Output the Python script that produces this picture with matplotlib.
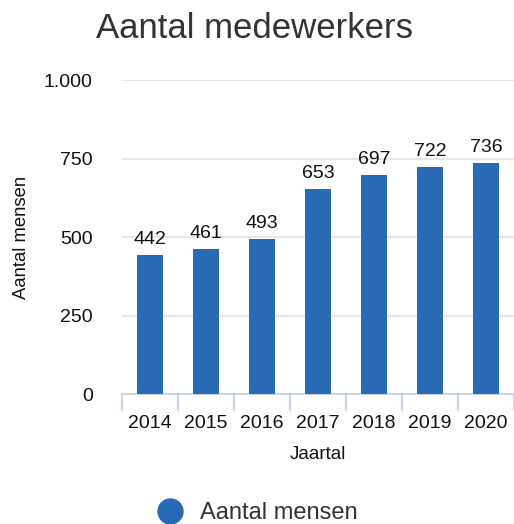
import matplotlib.pyplot as plt
from matplotlib.lines import Line2D
from matplotlib.ticker import FixedLocator

years = ["2014", "2015", "2016", "2017", "2018", "2019", "2020"]
mensen = [442, 461, 493, 653, 697, 722, 736]
y_ticks = [0, 250, 500, 750, 1000]
y_labels = ["0", "250", "500", "750", "1.000"]

plt.rcParams['font.family'] = ['Liberation Sans', 'DejaVu Sans']

bar_color = "#2a69b3"
axis_color = "#c8d2e8"

fig = plt.figure(figsize=(5.14, 5.24), dpi=100)
ax = fig.add_axes([0.237, 0.248, 0.763, 0.599])

x = list(range(len(years)))
ax.bar(x, mensen, width=0.47, color=bar_color, zorder=3)

# value labels above bars
for xi, v in zip(x, mensen):
    ax.annotate(str(v), (xi, v), xytext=(0, 5), textcoords="offset points",
                ha="center", va="bottom", fontsize=14, color="#111111")

ax.set_xlim(-0.5, len(years) - 0.5)
ax.set_ylim(0, 1000)
ax.set_yticks(y_ticks)
ax.set_yticklabels(y_labels)
ax.set_xticks(x)
ax.set_xticklabels(years)
ax.xaxis.set_minor_locator(FixedLocator([i - 0.5 for i in range(len(years) + 1)]))

ax.grid(axis="y", color="#e3e3e3", linewidth=1.2, zorder=0)
for s in ["top", "right", "left"]:
    ax.spines[s].set_visible(False)
ax.spines["bottom"].set_color(axis_color)
ax.spines["bottom"].set_linewidth(1.5)

ax.tick_params(axis="y", length=0, pad=21, labelsize=14, labelcolor="#111111")
ax.tick_params(axis="x", which="major", length=0, pad=15, labelsize=14, labelcolor="#111111")
ax.tick_params(axis="x", which="minor", length=12, width=1.5, color=axis_color)

ax.set_xlabel("Jaartal", fontsize=13.5, color="#111111", labelpad=10)
ax.set_ylabel("Aantal mensen", fontsize=13.3, color="#111111", labelpad=10)

fig.text(0.187, 0.945, "Aantal medewerkers", fontsize=25, color="#333333",
         ha="left", va="center")

handle = Line2D([], [], marker="o", linestyle="", markersize=18,
                markerfacecolor=bar_color, markeredgecolor=bar_color)
fig.legend([handle], ["Aantal mensen"], loc="center", bbox_to_anchor=(0.49, 0.021),
           frameon=False, fontsize=17, handletextpad=0.3, labelcolor="#333333")

fig.savefig("out.png", dpi=100)
